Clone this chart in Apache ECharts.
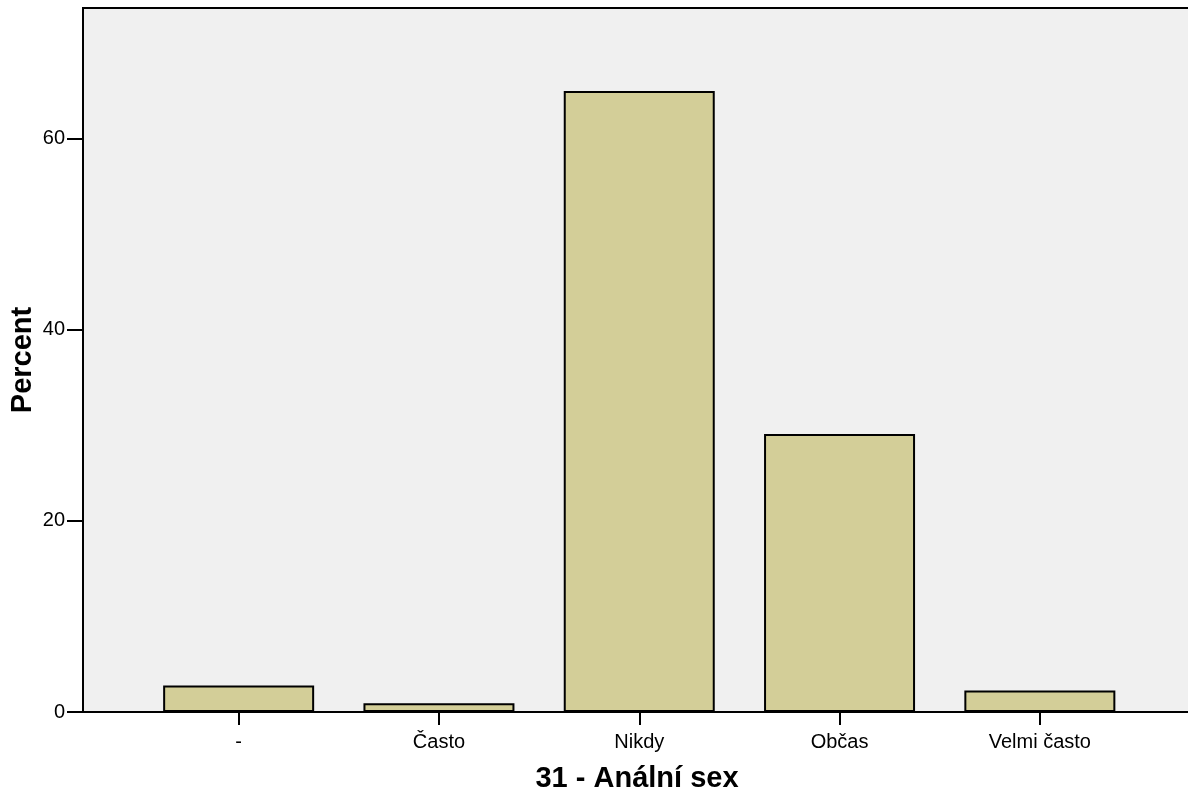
<!DOCTYPE html>
<html>
<head>
<meta charset="utf-8">
<script src="https://cdn.jsdelivr.net/npm/echarts@6/dist/echarts.min.js"></script>
<style>
  html, body { margin: 0; padding: 0; background: #fff; }
  #chart { width: 1188px; height: 795px; }
</style>
</head>
<body>
<div id="chart"></div>
<script>
const categories = ['-', 'Často', 'Nikdy', 'Občas', 'Velmi často']
const percents = [2.77, 0.92, 65.0, 29.1, 2.25]
const yTicks = [0, 20, 40, 60]

const font = 'Arial, "Liberation Sans", sans-serif'
const chart = echarts.init(document.getElementById('chart'))

const option = {
  animation: false,
  grid: [
    // background frame with y axis
    {
      left: 83, right: -3, top: 8, bottom: 83,
      outerBoundsMode: 'none', containLabel: false,
      show: true, backgroundColor: '#f0f0f0',
      borderColor: '#000', borderWidth: 2
    },
    // bars
    {
      left: 138.5, right: 48, top: 8, bottom: 83,
      outerBoundsMode: 'none', containLabel: false
    }
  ],
  xAxis: [
    {
      gridIndex: 0, type: 'value', min: 0, max: 1,
      axisLine: { show: true, lineStyle: { color: '#000', width: 2 } },
      axisTick: { show: false }, axisLabel: { show: false }, splitLine: { show: false },
      name: '31 - Anální sex', nameLocation: 'middle', nameGap: 52, nameMoveOverlap: false,
      nameTextStyle: { color: '#000', fontFamily: font, fontSize: 29, fontWeight: 'bold' }
    },
    {
      gridIndex: 1, type: 'category', data: categories,
      axisLine: { show: false },
      axisTick: { show: true, alignWithLabel: true, length: 13, lineStyle: { color: '#000', width: 2 } },
      axisLabel: { color: '#000', fontFamily: font, fontSize: 20, margin: 20 }
    }
  ],
  yAxis: [
    {
      gridIndex: 0, type: 'value', min: 0, max: 73.7, interval: 20,
      axisLine: { show: true, lineStyle: { color: '#000', width: 2 } },
      axisTick: { show: true, length: 16, customValues: yTicks, lineStyle: { color: '#000', width: 2 } },
      axisLabel: {
        color: '#000', fontFamily: font, fontSize: 20, margin: 18,
        customValues: yTicks
      },
      splitLine: { show: false },
      name: 'Percent', nameLocation: 'middle', nameGap: 46, nameMoveOverlap: false,
      nameTextStyle: { color: '#000', fontFamily: font, fontSize: 29, fontWeight: 'bold' }
    },
    {
      gridIndex: 1, type: 'value', min: 0, max: 73.7, show: false
    }
  ],
  series: [
    {
      type: 'bar',
      xAxisIndex: 1, yAxisIndex: 1,
      data: percents,
      barWidth: 151,
      itemStyle: { color: '#d3ce98', borderColor: '#000', borderWidth: 2 }
    }
  ]
}
chart.setOption(option)
</script>
</body>
</html>
